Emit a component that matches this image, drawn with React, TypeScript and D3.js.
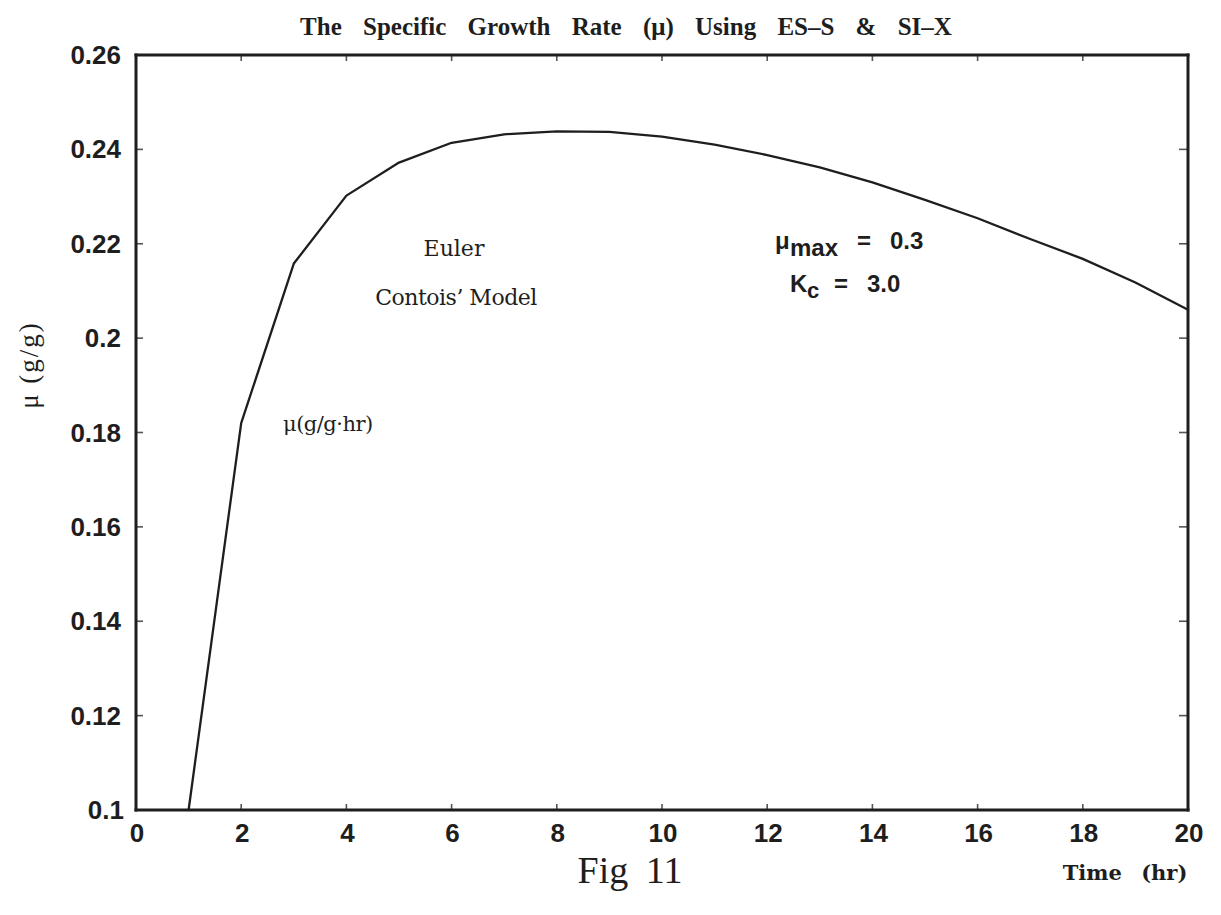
import React from "react";
import * as d3 from "d3";

// Simulated specific growth rate (Euler integration, Contois' model)
const timeHours: number[] = [1, 2, 3, 4, 5, 6, 7, 8, 9, 10, 11, 12, 13, 14, 15, 16, 17, 18, 19, 20];
const muValues: number[] = [
  0.1, 0.182, 0.2158, 0.2302, 0.2372, 0.2414, 0.2432, 0.2438, 0.2437, 0.2427,
  0.241, 0.2388, 0.2362, 0.233, 0.2293, 0.2254, 0.221, 0.2168, 0.2118, 0.206,
];

const xTicks: number[] = [0, 2, 4, 6, 8, 10, 12, 14, 16, 18, 20];
const yTicks: number[] = [0.1, 0.12, 0.14, 0.16, 0.18, 0.2, 0.22, 0.24, 0.26];
const yTickLabels: string[] = ["0.1", "0.12", "0.14", "0.16", "0.18", "0.2", "0.22", "0.24", "0.26"];

const W = 1221;
const H = 915;
const left = 136;
const right = 1188;
const top = 55;
const bottom = 810;

const ink = "#1e1e1e";
const sansBold = "'Liberation Sans', Arial, sans-serif";
const serif = "'Liberation Serif', 'Times New Roman', serif";
const bookSerif = "'DejaVu Serif', serif";

export default function App() {
  const x = d3.scaleLinear().domain([0, 20]).range([left, right]);
  const y = d3.scaleLinear().domain([0.1, 0.26]).range([bottom, top]);

  const points = timeHours.map((t, i) => [t, muValues[i]] as [number, number]);
  const line = d3
    .line<[number, number]>()
    .x((d) => x(d[0]))
    .y((d) => y(d[1]));

  const innerX = xTicks.slice(1, -1);
  const innerY = yTicks.slice(1, -1);

  return (
    <svg
      width={W}
      height={H}
      viewBox={`0 0 ${W} ${H}`}
      style={{ display: "block", position: "absolute", left: 0, top: 0, background: "#fff" }}
    >
      <rect x={0} y={0} width={W} height={H} fill="#fff" />

      {/* title */}
      <text
        x={626}
        y={35}
        textAnchor="middle"
        fontFamily={serif}
        fontWeight="bold"
        fontSize={25}
        wordSpacing={15}
        fill={ink}
      >
        The Specific Growth Rate (μ) Using ES–S &amp; SI–X
      </text>

      {/* tick marks */}
      <g stroke="#555" strokeWidth={1.6}>
        {innerX.map((t) => (
          <line key={`tt${t}`} x1={x(t)} x2={x(t)} y1={top} y2={top + 6} />
        ))}
        {innerX.map((t) => (
          <line key={`bt${t}`} x1={x(t)} x2={x(t)} y1={bottom} y2={bottom - 6} />
        ))}
        {innerY.map((v) => (
          <line key={`lt${v}`} x1={left} x2={left + 7} y1={y(v)} y2={y(v)} />
        ))}
        {innerY.map((v) => (
          <line key={`rt${v}`} x1={right} x2={right - 9} y1={y(v)} y2={y(v)} />
        ))}
      </g>

      {/* frame */}
      <g stroke={ink} strokeWidth={3} strokeLinecap="square">
        <line x1={left} x2={right} y1={top} y2={top} />
        <line x1={left} x2={right} y1={bottom} y2={bottom} />
        <line x1={left} x2={left} y1={top} y2={bottom} />
        <line x1={right} x2={right} y1={top} y2={bottom} />
      </g>

      {/* growth-rate curve */}
      <path d={line(points) ?? ""} fill="none" stroke={ink} strokeWidth={2.3} strokeLinejoin="round" />

      {/* y tick labels */}
      {yTicks.map((v, i) => (
        <text
          key={`yl${v}`}
          x={i === 0 ? 124 : 121}
          y={y(v) + 9}
          textAnchor="end"
          fontFamily={sansBold}
          fontWeight="bold"
          fontSize={26}
          fill={ink}
        >
          {yTickLabels[i]}
        </text>
      ))}

      {/* x tick labels */}
      {xTicks.map((t) => (
        <text
          key={`xl${t}`}
          x={x(t) + 1}
          y={842}
          textAnchor="middle"
          fontFamily={sansBold}
          fontWeight="bold"
          fontSize={26}
          fill={ink}
        >
          {t}
        </text>
      ))}

      {/* y axis title */}
      <text
        transform={`translate(38, 365) rotate(-90)`}
        textAnchor="middle"
        fontFamily={serif}
        fontSize={27}
        letterSpacing={2}
        fill={ink}
      >
        μ (g/g)
      </text>

      {/* annotations */}
      <text x={454} y={256} textAnchor="middle" fontFamily={bookSerif} fontSize={22} fill={ink}>
        Euler
      </text>
      <text x={456} y={305} textAnchor="middle" fontFamily={bookSerif} fontSize={22} fill={ink} letterSpacing={-0.5}>
        Contois’ Model
      </text>
      <text x={283} y={431} fontFamily={bookSerif} fontSize={21} fill={ink} letterSpacing={-0.5}>
        μ(g/g·hr)
      </text>

      <g fontFamily={sansBold} fontWeight="bold" fill={ink}>
        <text x={775} y={249} fontSize={24}>μ</text>
        <text x={790} y={256} fontSize={24}>max</text>
        <text x={857} y={249} fontSize={24}>=</text>
        <text x={890} y={249} fontSize={24}>0.3</text>

        <text x={790} y={292} fontSize={24}>K</text>
        <text x={807} y={298} fontSize={22}>c</text>
        <text x={834} y={292} fontSize={24}>=</text>
        <text x={867} y={292} fontSize={24}>3.0</text>
      </g>

      {/* figure caption and x axis title */}
      <text x={630} y={883} textAnchor="middle" fontFamily={serif} fontSize={38} fill={ink} wordSpacing={8}>
        Fig 11
      </text>
      <text
        x={1125}
        y={880}
        textAnchor="middle"
        fontFamily={bookSerif}
        fontWeight="bold"
        fontSize={21}
        wordSpacing={12}
        fill={ink}
      >
        Time (hr)
      </text>
    </svg>
  );
}
